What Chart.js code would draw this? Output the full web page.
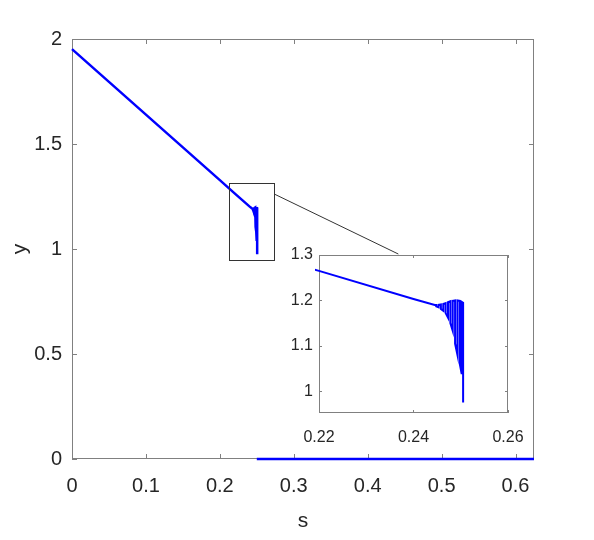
<!DOCTYPE html>
<html>
<head>
<meta charset="utf-8">
<script src="https://cdn.jsdelivr.net/npm/chart.js@4"></script>
<style>
  body { margin: 0; background: #fff; }
  #wrap { position: relative; width: 594px; height: 540px; }
  #main { position: absolute; left: 0; top: 0; }
  #inset { position: absolute; left: 270px; top: 240px; }
</style>
</head>
<body>
<div id="wrap">
  <canvas id="main" width="594" height="540"></canvas>
  <canvas id="inset" width="260" height="210"></canvas>
</div>
<script>
// main branch
var curveS = [0, 0.05, 0.1, 0.15, 0.2, 0.22, 0.24, 0.2445,
  0.2448, 0.2448, 0.2453, 0.2453, 0.2458, 0.2458, 0.2463, 0.2463,
  0.2468, 0.2468, 0.2473, 0.2473, 0.2478, 0.2478, 0.2483, 0.2483,
  0.2488, 0.2488, 0.2493, 0.2493, 0.2498, 0.2498, 0.2502, 0.2502,
  0.2505, 0.2505];
var curveY = [1.952, 1.796, 1.640, 1.484, 1.328, 1.265, 1.203, 1.190,
  1.190, 1.187, 1.185, 1.190, 1.191, 1.181, 1.177, 1.192,
  1.194, 1.172, 1.162, 1.196, 1.198, 1.150, 1.133, 1.199,
  1.200, 1.105, 1.080, 1.200, 1.199, 1.060, 1.038, 1.197,
  1.195, 0.975];

// zero branch
var zeroS = [0.25, 0.625];
var zeroY = [0, 0];

// ticks
var xTicks = [0, 0.1, 0.2, 0.3, 0.4, 0.5, 0.6];
var yTicks = [0, 0.5, 1, 1.5, 2];
var insetXTicks = [0.22, 0.24, 0.26];
var insetYTicks = [1, 1.1, 1.2, 1.3];

// zoom box and connector (data coords of main axes)
var zoomBoxS = [0.213, 0.2735];
var zoomBoxY = [0.948, 1.316];
var connS = [0.2735, 0.4415];
var connY = [1.262, 0.976];

var textColor = '#262626';
var axisColor = '#808080';

function toXY(xs, ys) {
  return xs.map(function (x, i) { return { x: x, y: ys[i] }; });
}

function setTicks(list) {
  return function (scale) {
    scale.ticks = list.map(function (v) { return { value: v }; });
  };
}

// fixed size, and no extra room asked for the end labels
function fixHeight(h) {
  return function (s) { s.height = h; s.paddingLeft = 0; s.paddingRight = 0; };
}
function fixWidth(w) {
  return function (s) { s.width = w; s.paddingTop = 0; s.paddingBottom = 0; };
}

// box with inward ticks on all four sides, under the data
function boxPlugin(len) {
  return {
    id: 'box',
    beforeDatasetsDraw: function (chart) {
      var ctx = chart.ctx, a = chart.chartArea;
      var xs = chart.scales.x, ys = chart.scales.y;
      ctx.save();
      ctx.strokeStyle = axisColor;
      ctx.lineWidth = 1;
      ctx.strokeRect(a.left + 0.5, a.top + 0.5, a.right - a.left - 1, a.bottom - a.top - 1);
      ctx.beginPath();
      xs.ticks.forEach(function (t) {
        var px = Math.round(xs.getPixelForValue(t.value)) + 0.5;
        ctx.moveTo(px, a.bottom); ctx.lineTo(px, a.bottom - len);
        ctx.moveTo(px, a.top); ctx.lineTo(px, a.top + len);
      });
      ys.ticks.forEach(function (t) {
        var py = Math.round(ys.getPixelForValue(t.value)) + 0.5;
        ctx.moveTo(a.left, py); ctx.lineTo(a.left + len, py);
        ctx.moveTo(a.right, py); ctx.lineTo(a.right - len, py);
      });
      ctx.stroke();
      ctx.restore();
    }
  };
}

var zoomPlugin = {
  id: 'zoomBox',
  afterDatasetsDraw: function (chart) {
    var ctx = chart.ctx, xs = chart.scales.x, ys = chart.scales.y;
    var x0 = xs.getPixelForValue(zoomBoxS[0]), x1 = xs.getPixelForValue(zoomBoxS[1]);
    var y0 = ys.getPixelForValue(zoomBoxY[0]), y1 = ys.getPixelForValue(zoomBoxY[1]);
    ctx.save();
    ctx.strokeStyle = '#333';
    ctx.lineWidth = 1;
    ctx.strokeRect(Math.round(x0) + 0.5, Math.round(y1) + 0.5, Math.round(x1 - x0), Math.round(y0 - y1));
    ctx.beginPath();
    ctx.moveTo(xs.getPixelForValue(connS[0]), ys.getPixelForValue(connY[0]));
    ctx.lineTo(xs.getPixelForValue(connS[1]), ys.getPixelForValue(connY[1]));
    ctx.stroke();
    ctx.restore();
  }
};

var whiteArea = {
  id: 'whiteArea',
  beforeDraw: function (chart) {
    var a = chart.chartArea;
    chart.ctx.save();
    chart.ctx.fillStyle = '#fff';
    chart.ctx.fillRect(a.left, a.top, a.right - a.left, a.bottom - a.top);
    chart.ctx.restore();
  }
};

function lineSet(xs, ys, w) {
  return {
    data: toXY(xs, ys), showLine: true, borderColor: '#0000ff',
    borderWidth: w, pointRadius: 0, tension: 0, clip: 4
  };
}

var mainFont = { family: 'Liberation Sans, Arial', size: 20 };

new Chart(document.getElementById('main'), {
  type: 'scatter',
  data: { datasets: [lineSet(curveS, curveY, 2.5), lineSet(zeroS, zeroY, 2.5)] },
  options: {
    responsive: false,
    animation: false,
    layout: { padding: { top: 39, right: 60, left: 0, bottom: 0 } },
    plugins: { legend: { display: false }, tooltip: { enabled: false } },
    scales: {
      x: {
        type: 'linear', min: 0, max: 0.625,
        afterBuildTicks: setTicks(xTicks),
        afterFit: fixHeight(81),
        grid: { display: false, drawTicks: false }, border: { display: false },
        ticks: { font: mainFont, color: textColor, padding: 15, maxRotation: 0,
          callback: function (v) { return String(v); } },
        title: { display: true, text: 's', color: textColor,
          font: { family: 'Liberation Sans, Arial', size: 21 }, padding: { top: 0, bottom: 6 } }
      },
      y: {
        type: 'linear', min: 0, max: 2,
        afterBuildTicks: setTicks(yTicks),
        afterFit: fixWidth(72),
        grid: { display: false, drawTicks: false }, border: { display: false },
        ticks: { font: mainFont, color: textColor, padding: 10,
          callback: function (v) { return String(v); } },
        title: { display: true, text: 'y', color: textColor,
          font: { family: 'Liberation Sans, Arial', size: 21 }, padding: { top: 8, bottom: 0 } }
      }
    }
  },
  plugins: [boxPlugin(5), zoomPlugin]
});

var insetFont = { family: 'Liberation Sans, Arial', size: 16 };

new Chart(document.getElementById('inset'), {
  type: 'scatter',
  data: { datasets: [lineSet(curveS, curveY, 2)] },
  options: {
    responsive: false,
    animation: false,
    layout: { padding: { top: 15, right: 22, left: 0, bottom: 0 } },
    plugins: { legend: { display: false }, tooltip: { enabled: false } },
    scales: {
      x: {
        type: 'linear', min: 0.22, max: 0.26,
        afterBuildTicks: setTicks(insetXTicks),
        afterFit: fixHeight(37),
        grid: { display: false, drawTicks: false }, border: { display: false },
        ticks: { font: insetFont, color: textColor, padding: 15, maxRotation: 0,
          callback: function (v) { return String(v); } }
      },
      y: {
        type: 'linear', min: 0.952, max: 1.3,
        afterBuildTicks: setTicks(insetYTicks),
        afterFit: fixWidth(49),
        grid: { display: false, drawTicks: false }, border: { display: false },
        ticks: { font: insetFont, color: textColor, padding: 6,
          callback: function (v) { return String(v); } }
      }
    }
  },
  plugins: [whiteArea, boxPlugin(3)]
});
</script>
</body>
</html>
